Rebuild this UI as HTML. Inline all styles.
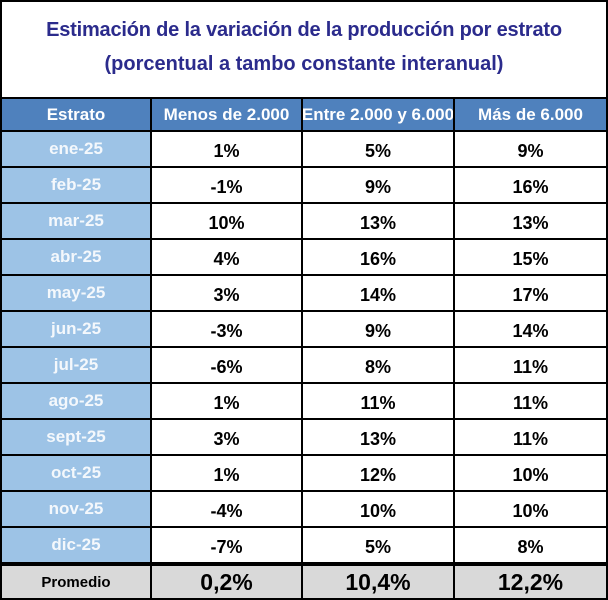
<!DOCTYPE html><html><head><style>
body{margin:0;background:#fff;font-family:"Liberation Sans",sans-serif;}
#w{position:relative;width:608px;height:600px;overflow:hidden;}
.t{position:absolute;left:0;width:608px;text-align:center;color:#2b2b8c;font-weight:bold;font-size:20px;white-space:nowrap;}
.c{position:absolute;box-sizing:border-box;display:flex;align-items:center;justify-content:center;font-weight:bold;white-space:nowrap;overflow:hidden;border-right:2px solid #000;border-bottom:2px solid #000;}
</style></head><body><div id="w">
<div style="position:absolute;left:0;top:0;border:2px solid #000;box-sizing:border-box;width:608px;height:600px"></div>
<div class="t" style="top:19px;letter-spacing:-0.2px">Estimación de la variación de la producción por estrato</div>
<div class="t" style="top:53px">(porcentual a tambo constante interanual)</div>
<div id="tb"></div>
</div>
<script>
(function(){
var cols=[0,152,303,455,608];
var rows=[["Estrato","Menos de 2.000","Entre 2.000 y 6.000","Más de 6.000"],
["ene-25","1%","5%","9%"],["feb-25","-1%","9%","16%"],["mar-25","10%","13%","13%"],["abr-25","4%","16%","15%"],["may-25","3%","14%","17%"],["jun-25","-3%","9%","14%"],["jul-25","-6%","8%","11%"],["ago-25","1%","11%","11%"],["sept-25","3%","13%","11%"],["oct-25","1%","12%","10%"],["nov-25","-4%","10%","10%"],["dic-25","-7%","5%","8%"],["Promedio","0,2%","10,4%","12,2%"]];
var h="";
for(var r=0;r<rows.length;r++){
 var yy=r==0?97:(r<13?132+(r-1)*36:564), ht=r==0?35:36;
 for(var c=0;c<4;c++){
  var bg="#fff",col="#000",fs=18,pad="padding-top:4px;";
  if(r==0){bg="#4f81bd";col="#fff";fs=17;pad="";}
  else if(r==13){bg="#d9d9d9";fs=c==0?15:23;pad="";}
  else if(c==0){bg="#9dc3e6";col="#f4f8fc";fs=17;pad="";}
  var bt=(r==0||r==13)?"border-top:2px solid #000;":"";
  var bl=c==0?"border-left:2px solid #000;":"";
  h+='<div class="c" style="left:'+cols[c]+'px;top:'+yy+'px;width:'+(cols[c+1]-cols[c])+'px;height:'+ht+'px;background:'+bg+';color:'+col+';font-size:'+fs+'px;'+pad+bt+bl+'">'+rows[r][c]+'</div>';
 }}
document.getElementById("tb").innerHTML=h;
})();
</script>
</body></html>
